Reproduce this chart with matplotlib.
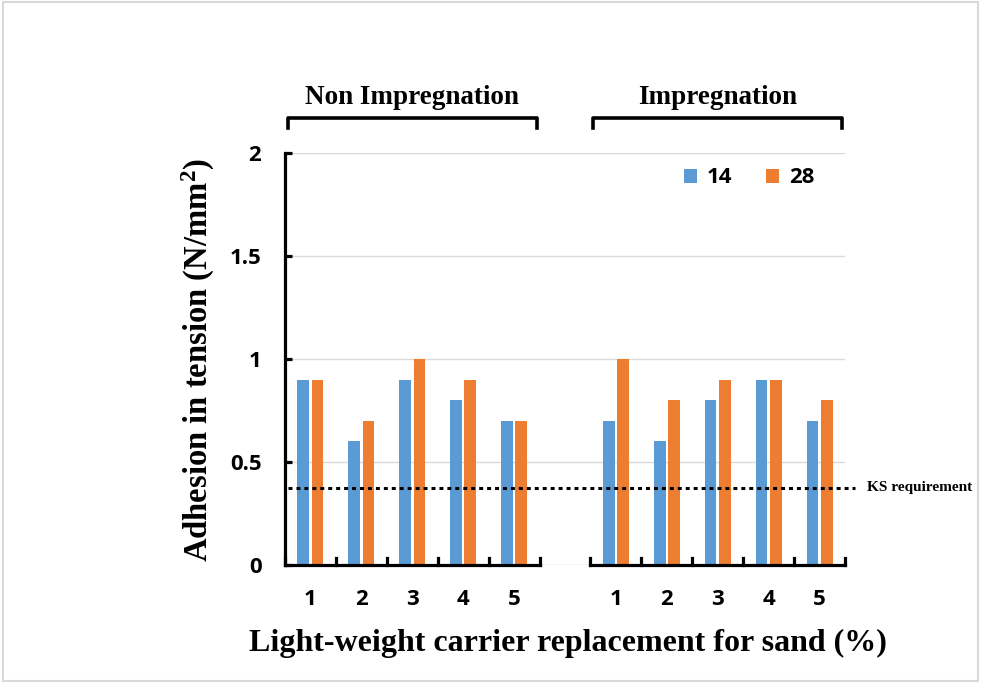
import numpy as np
import matplotlib
matplotlib.use('Agg')
import matplotlib.pyplot as plt
from matplotlib.patches import Rectangle

# Dados
categorias = ['1', '2', '3', '4', '5']
grupos = ['Non Impregnation', 'Impregnation']
idades = ['14', '28']
non_14 = [0.9, 0.6, 0.9, 0.8, 0.7]
non_28 = [0.9, 0.7, 1.0, 0.9, 0.7]
imp_14 = [0.7, 0.6, 0.8, 0.9, 0.7]
imp_28 = [1.0, 0.8, 0.9, 0.9, 0.8]
ks_req = 0.375

AZUL = '#5B9BD5'
LARANJA = '#ED7D31'
SERIF = 'Liberation Serif'
SANS = 'Open Sans'

plt.rcParams['mathtext.fontset'] = 'custom'
plt.rcParams['mathtext.rm'] = 'Liberation Serif:bold'
plt.rcParams['mathtext.default'] = 'rm'

W, H = 985, 684
fig = plt.figure(figsize=(W / 100, H / 100), dpi=100)
ax = fig.add_axes([285 / W, (H - 565) / H, 560 / W, 412 / H])

# posicoes: grupo 1 em 0..4, slot vazio em 5, grupo 2 em 6..10
x1 = np.arange(len(categorias))
x2 = x1 + len(categorias) + 1
larg = 0.23
desl = 0.14

ax.bar(x1 - desl, non_14, larg, color=AZUL, label=idades[0], zorder=2)
ax.bar(x1 + desl, non_28, larg, color=LARANJA, label=idades[1], zorder=2)
ax.bar(x2 - desl, imp_14, larg, color=AZUL, zorder=2)
ax.bar(x2 + desl, imp_28, larg, color=LARANJA, zorder=2)

ax.set_xlim(-0.5, 10.5)
ax.set_ylim(0, 2)
for s in ax.spines.values():
    s.set_visible(False)

# eixo y com ticks para dentro
ax.plot([-0.5, -0.5], [0, 2], color='black', lw=2.3, clip_on=False, zorder=4,
        solid_capstyle='projecting')
ax.set_yticks([0, 0.5, 1, 1.5, 2])
ax.set_yticklabels(['0', '0.5', '1', '1.5', '2'], fontfamily=SANS,
                   fontweight='bold', fontsize=16)
ax.tick_params(axis='y', direction='in', length=5, width=2.3, pad=17)
ax.yaxis.grid(True, color='#d9d9d9', lw=1, zorder=0)

# eixo x em dois colchetes
ax.set_xticks(np.concatenate([x1, x2]))
ax.set_xticklabels(categorias + categorias, fontfamily=SANS,
                   fontweight='bold', fontsize=16)
ax.tick_params(axis='x', length=0, pad=17)
for xs in (x1, x2):
    a, b = xs[0] - 0.5, xs[-1] + 0.5
    ax.plot([a, b], [0, 0], color='black', lw=2.3, clip_on=False, zorder=4)
    for xb in np.arange(a, b + 0.01, 1.0):
        ax.plot([xb, xb], [0, 0.035], color='black', lw=2.3, clip_on=False, zorder=4)

# colchetes superiores com titulos dos grupos
for xs, nome in zip((x1, x2), grupos):
    a, b = xs[0] - 0.45, xs[-1] + 0.45
    ax.plot([a, a, b, b], [2.12, 2.17, 2.17, 2.12], color='black', lw=2.6,
            clip_on=False, solid_joinstyle='round')
    ax.text((a + b) / 2, 2.27, nome, ha='center', va='center', fontfamily=SERIF,
            fontweight='bold', fontsize=19.5)

# linha de requisito KS
ax.plot([-0.45, 10.7], [ks_req, ks_req], color='black', lw=2.2,
        linestyle=(0, (1.3, 1.3)), clip_on=False, zorder=3)
ax.text(10.93, ks_req, 'KS requirement', ha='left', va='center',
        fontfamily=SERIF, fontweight='bold', fontsize=11)

# legenda
leg = ax.legend(loc='center', bbox_to_anchor=(749 / W, (H - 178) / H),
                bbox_transform=fig.transFigure, ncol=2, frameon=False,
                handlelength=0.6, handleheight=0.6, handletextpad=0.45,
                columnspacing=1.5, prop={'family': SANS, 'weight': 'bold', 'size': 16})

fig.text(198 / W, (H - 360) / H, r'Adhesion in tension (N/mm$^{2}$)',
         rotation=90, ha='center', va='center', fontfamily=SERIF,
         fontweight='bold', fontsize=23.5)
fig.text(568 / W, (H - 643) / H, 'Light-weight carrier replacement for sand (%)',
         ha='center', va='center', fontfamily=SERIF, fontweight='bold', fontsize=23)

# moldura cinza da imagem
fig.patches.append(Rectangle((3 / W, 3 / H), 975 / W, 679 / H, transform=fig.transFigure,
                             fill=False, edgecolor='#d9d9d9', lw=1.5))

fig.savefig('out.png', dpi=100)
